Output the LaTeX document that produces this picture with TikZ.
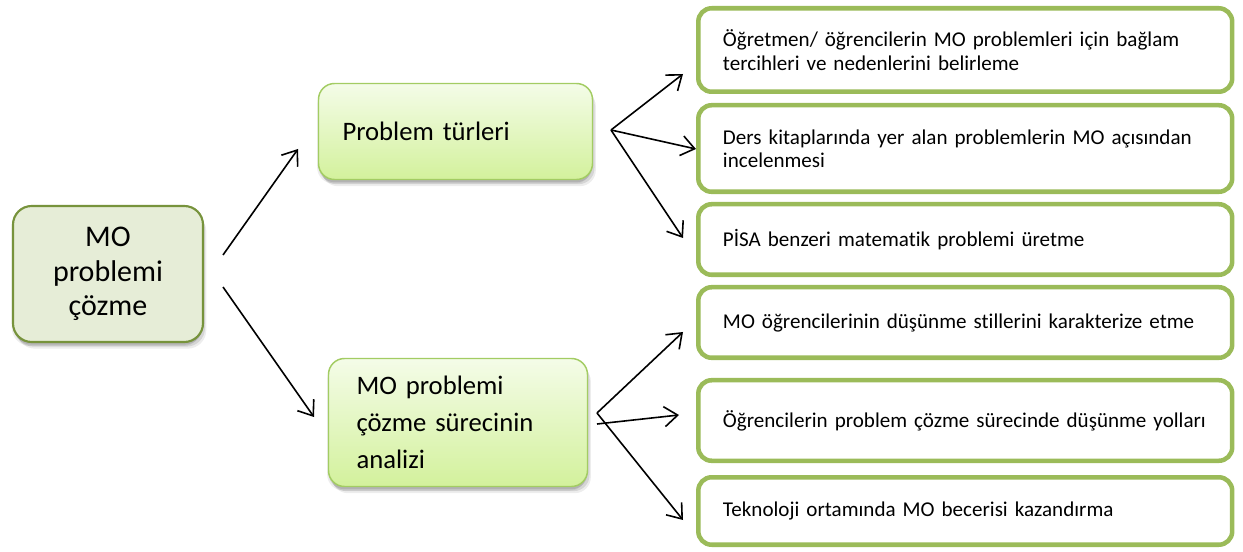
\documentclass[tikz,border=0pt]{standalone}
\usepackage{fontspec}
\setmainfont{Carlito}[Ligatures=NoCommon, WordSpace=0.8]
\usetikzlibrary{arrows.meta,shadows}
\hyphenpenalty=10000
\definecolor{rgreen}{HTML}{9BBB59}
\definecolor{mgreen}{HTML}{A3CC63}
\definecolor{mtop}{HTML}{F4FCE8}
\definecolor{mbot}{HTML}{D3F19C}
\definecolor{lgreen}{HTML}{77933C}
\definecolor{lfill}{HTML}{E6EDD7}
\tikzset{
  softshadow/.style={
    general shadow={shadow xshift=0pt, shadow yshift=-2pt, fill=black, opacity=0.10},
    general shadow={shadow xshift=1.5pt, shadow yshift=-3.5pt, fill=black, opacity=0.10},
    general shadow={shadow xshift=-1pt, shadow yshift=-3pt, fill=black, opacity=0.07},
    general shadow={shadow xshift=2.5pt, shadow yshift=-5pt, fill=black, opacity=0.07}},
  rbox/.style={draw=rgreen, line width=3.4pt, rounded corners=10pt, fill=white,
    text width=363.4pt, align=left, inner xsep=18.5pt, inner ysep=0pt,
    font=\fontsize{15.8}{17.6}\selectfont},
  mbox/.style={draw=mgreen, line width=1.1pt, rounded corners=12pt,
    top color=mtop, bottom color=mbot, align=left, inner ysep=0pt,
    font=\fontsize{20}{28}\selectfont, softshadow},
  lbox/.style={draw=lgreen, line width=1.6pt, rounded corners=14pt, fill=lfill,
    align=center, font=\fontsize{22.5}{26}\selectfont, softshadow,
    minimum width=142.5pt, minimum height=102pt},
  arr/.style={draw=black, line width=1.2pt, -{Straight Barb[length=10pt,width=15pt]}}
}
\begin{document}
\hyphenpenalty=10000
\begin{tikzpicture}[x=0.75pt,y=-0.75pt]
\useasboundingbox (0,0) rectangle (1243,552);

% left box
\node[lbox] (root) at (108,274) {MO\\problemi\\çözme};

% middle boxes
\node[mbox, text width=169.5pt, inner xsep=18pt, minimum height=72pt] (types) at (455.5,131.5) {Problem türleri};
\node[mbox, text width=152.25pt, inner xsep=21pt, minimum height=96pt] (analysis) at (458,422.5) {MO problemi\\çözme sürecinin\\analizi};

% right boxes
\node[rbox, minimum height=62.6pt] (r1) at (965.25,50) {Öğretmen/ öğrencilerin MO problemleri için bağlam\\tercihleri ve nedenlerini belirleme};
\node[rbox, minimum height=64.9pt] (r2) at (965.25,148.5) {Ders kitaplarında yer alan problemlerin MO açısından\\incelenmesi};
\node[rbox, minimum height=52.9pt] (r3) at (965.25,239.5) {PİSA benzeri matematik problemi üretme};
\node[rbox, minimum height=52.9pt] (r4) at (965.25,322.5) {MO öğrencilerinin düşünme stillerini karakterize etme};
\node[rbox, minimum height=60.4pt] (r5) at (965.25,420.5) {Öğrencilerin problem çözme sürecinde düşünme yolları};
\node[rbox, minimum height=50.6pt] (r6) at (965.25,511) {Teknoloji ortamında MO becerisi kazandırma};

% connector end points
\coordinate (a1s) at (223,255);
\coordinate (a1t) at (298,149);
\coordinate (a2s) at (223,287);
\coordinate (a2t) at (314,417);
\coordinate (to) at (611,130);
\coordinate (t1) at (683,74);
\coordinate (t2) at (696,149);
\coordinate (t3) at (683,238);
\coordinate (bo) at (597,413);
\coordinate (bo2) at (597,424);
\coordinate (b1) at (683,332);
\coordinate (b2) at (679,415);
\coordinate (b3) at (683,520);

\draw[arr] (a1s) -- (a1t);
\draw[arr] (a2s) -- (a2t);
\draw[arr] (to) -- (t1);
\draw[arr] (to) -- (t2);
\draw[arr] (to) -- (t3);
\draw[arr] (bo) -- (b1);
\draw[arr] (bo2) -- (b2);
\draw[arr] (bo) -- (b3);
\end{tikzpicture}
\end{document}
